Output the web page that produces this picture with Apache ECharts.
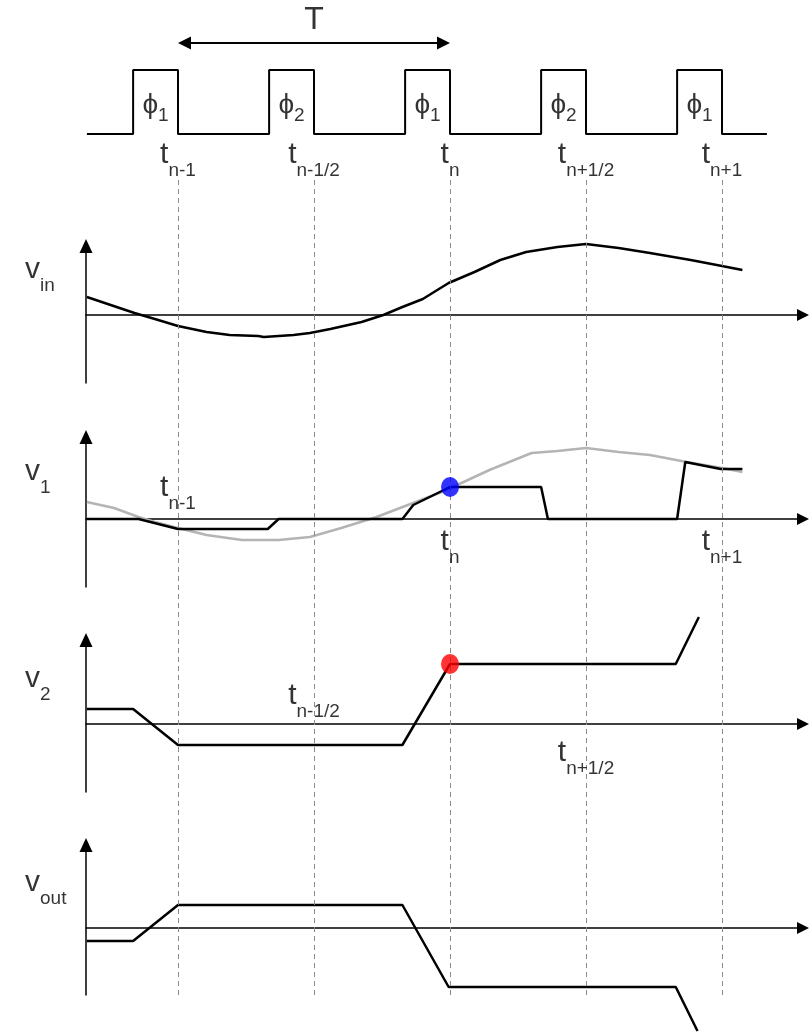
<!DOCTYPE html>
<html><head><meta charset="utf-8">
<script src="https://cdn.jsdelivr.net/npm/echarts@6/dist/echarts.min.js"></script>
<style>html,body{margin:0;padding:0;background:#fff}#c{width:809px;height:1032px}</style>
</head><body><div id="c"></div>
<script>
// ---- data (time in units of T/2; sample instants at integers) ----
const tickTimes = [1, 2, 3, 4, 5];
const tickSubs = ['n-1', 'n-1/2', 'n', 'n+1/2', 'n+1'];
const clockRise = [0.67, 1.67, 2.67, 3.67, 4.67];
const clockFall = [1, 2, 3, 4, 5];
const clockPhase = ['1', '2', '1', '2', '1'];
const clockSpan = [0.33, 5.33];

const vinT = [0.33,0.68,0.83,1.0,1.21,1.38,1.59,1.63,1.85,1.97,2.12,2.35,2.51,2.65,2.80,2.99,3.18,3.37,3.56,3.79,4.0,4.24,4.47,4.77,5.0,5.15];
const vinV = [1.8,0.2,-0.4,-1.1,-1.7,-2.0,-2.1,-2.2,-2.0,-1.8,-1.4,-0.7,0,0.8,1.6,3.2,4.3,5.5,6.3,6.8,7.1,6.7,6.2,5.5,4.9,4.5];

const v1InT = [0.33,0.53,0.71,0.83,1.0,1.21,1.47,1.74,1.97,2.2,2.46,2.69,2.92,3.1,3.29,3.6,3.79,4.0,4.24,4.47,4.74,5.0,5.15];
const v1InV = [1.7,1.1,0.2,-0.3,-0.9,-1.6,-2.1,-2.1,-1.8,-0.9,0.2,1.4,2.6,3.7,4.9,6.6,6.8,7.1,6.7,6.4,5.7,5.1,4.7];

const v1T = [0.33,0.71,1.0,1.66,1.74,2.65,2.73,3.0,3.67,3.72,4.67,4.73,4.99,5.15];
const v1V = [0,0,-1.0,-1.0,0,0,1.4,3.2,3.2,0,0,5.7,5.0,5.0];

const v2T = [0.33,0.67,1.0,2.65,3.0,4.66,4.83];
const v2V = [1.5,1.5,-2.1,-2.1,6.0,6.0,10.7];

const voutT = [0.33,0.67,1.0,2.65,2.99,4.66,4.82];
const voutV = [-1.3,-1.3,2.3,2.3,-5.9,-5.9,-10.3];

const v1Sample = [3.0, 3.2];
const v2Sample = [3.0, 6.0];

// ---- build ----
const FONT = "'Liberation Sans', Arial, 'DejaVu Sans', sans-serif";
const XMIN = 0.32353, PX = 136, XW = 717, XMAX = XMIN + XW / PX;
const zip = (a, b) => a.map((t, i) => [t, b[i]]);

const clockData = [[clockSpan[0], 0]];
clockRise.forEach((r, i) => { clockData.push([r, 0], [r, 1], [clockFall[i], 1], [clockFall[i], 0]); });
clockData.push([clockSpan[1], 0]);

const grids = [
  {left: 86, width: XW, top: 180, height: 815},   // 0 dashed guides
  {left: 86, width: XW, top: 10, height: 180},    // 1 clock
  {left: 86, width: XW, top: 246, height: 137},   // 2 vin
  {left: 86, width: XW, top: 437, height: 150},   // 3 v1
  {left: 86, width: XW, top: 640, height: 152},   // 4 v2
  {left: 86, width: XW, top: 845, height: 150}    // 5 vout
];
const yr = [[0, 1], [-0.875, 1.9375], [-6.8, 6.9], [-6.8, 8.2], [-6.8, 8.4], [-6.7, 8.3]];
const axLine = (w, h) => ({show: true, onZero: true, symbol: ['none', 'triangle'], symbolSize: [w, h], lineStyle: {color: '#000', width: 1.5}});
const xAxis = grids.map((g, i) => ({
  type: 'value', gridIndex: i, min: XMIN, max: XMAX, show: i >= 2,
  axisLine: axLine(12, 12), axisTick: {show: false}, axisLabel: {show: false}, splitLine: {show: false}
}));
const yAxis = grids.map((g, i) => ({
  type: 'value', gridIndex: i, min: yr[i][0], max: yr[i][1], show: i >= 2,
  axisLine: axLine(13, 14), axisTick: {show: false}, axisLabel: {show: false}, splitLine: {show: false}
}));

const rich = {
  m: {fontSize: 30, fontFamily: FONT, color: '#000'},
  s: {fontSize: 19, fontFamily: FONT, color: '#000', padding: [33, 0, 0, 0]},
  p: {fontSize: 28, fontFamily: FONT, color: '#000'},
  ps: {fontSize: 19, fontFamily: FONT, color: '#000', padding: [21, 0, 0, 0]},
  big: {fontSize: 32, fontFamily: FONT, color: '#000'}
};
function labels(gi, items, align) {
  return {
    type: 'scatter', xAxisIndex: gi, yAxisIndex: gi, clip: false, silent: true, z: 10,
    symbolSize: 0, itemStyle: {color: 'transparent'},
    label: {show: true, position: [0, 0], align: align, verticalAlign: 'middle', rich: rich},
    data: items.map(it => ({value: it.at, label: {formatter: it.text}}))
  };
}
const tLab = (i, y) => ({at: [tickTimes[i], y], text: '{m|t}{s|' + tickSubs[i] + '}'});
const vLab = (sub, y) => ({at: [-0.125, y], text: '{m|v}{s|' + sub + '}'});
const lineS = (gi, data, color, z) => ({
  type: 'line', xAxisIndex: gi, yAxisIndex: gi, data: data, clip: false, silent: true,
  symbol: 'none', z: z || 3, lineStyle: {color: color || '#000', width: 2.5}
});
const HA = 6.5 / PX;

const option = {
  animation: false,
  backgroundColor: '#fff',
  grid: grids,
  xAxis: xAxis,
  yAxis: yAxis,
  series: [
    {type: 'line', xAxisIndex: 0, yAxisIndex: 0, data: [], silent: true, z: 1,
     markLine: {silent: true, symbol: 'none', label: {show: false}, animation: false,
       lineStyle: {type: [5, 4], color: '#8a8a8a', width: 1},
       data: tickTimes.map(t => ({xAxis: t}))}},
    {type: 'line', xAxisIndex: 1, yAxisIndex: 1, data: clockData, symbol: 'none', clip: false, silent: true,
     lineStyle: {color: '#000', width: 2},
     markLine: {silent: true, symbol: ['triangle', 'triangle'], symbolSize: 13, label: {show: false}, animation: false,
       lineStyle: {type: 'solid', color: '#000', width: 2},
       data: [[{coord: [tickTimes[0] + HA, 1.422]}, {coord: [tickTimes[2] - HA, 1.422]}]]}},
    labels(1, clockRise.map((r, i) => ({at: [(r + clockFall[i]) / 2, 0.444], text: '{p|\u03D5}{ps|' + clockPhase[i] + '}'}))
      .concat([{at: [tickTimes[1], 1.78], text: '{big|T}'}])
      .concat(tickTimes.map((t, i) => tLab(i, -0.323))), 'center'),
    lineS(2, zip(vinT, vinV)),
    labels(2, [vLab('in', 4.53)], 'left'),
    lineS(3, zip(v1InT, v1InV), '#b4b4b4', 2),
    lineS(3, zip(v1T, v1V)),
    {type: 'scatter', xAxisIndex: 3, yAxisIndex: 3, data: [v1Sample], symbolSize: [18, 20], z: 6, silent: true, itemStyle: {color: '#0000ff'}},
    labels(3, [vLab('1', 4.75)], 'left'),
    labels(3, [tLab(0, 3.13), tLab(2, -2.27), tLab(4, -2.27)], 'center'),
    lineS(4, zip(v2T, v2V)),
    {type: 'scatter', xAxisIndex: 4, yAxisIndex: 4, data: [v2Sample], symbolSize: [18, 20], z: 6, silent: true, itemStyle: {color: '#ff0000'}},
    labels(4, [vLab('2', 4.53)], 'left'),
    labels(4, [tLab(1, 2.83), tLab(3, -2.87)], 'center'),
    lineS(5, zip(voutT, voutV)),
    labels(5, [vLab('out', 4.53)], 'left')
  ]
};
const chart = echarts.init(document.getElementById('c'), null, {renderer: 'canvas'});
chart.setOption(option);
</script>
</body></html>
